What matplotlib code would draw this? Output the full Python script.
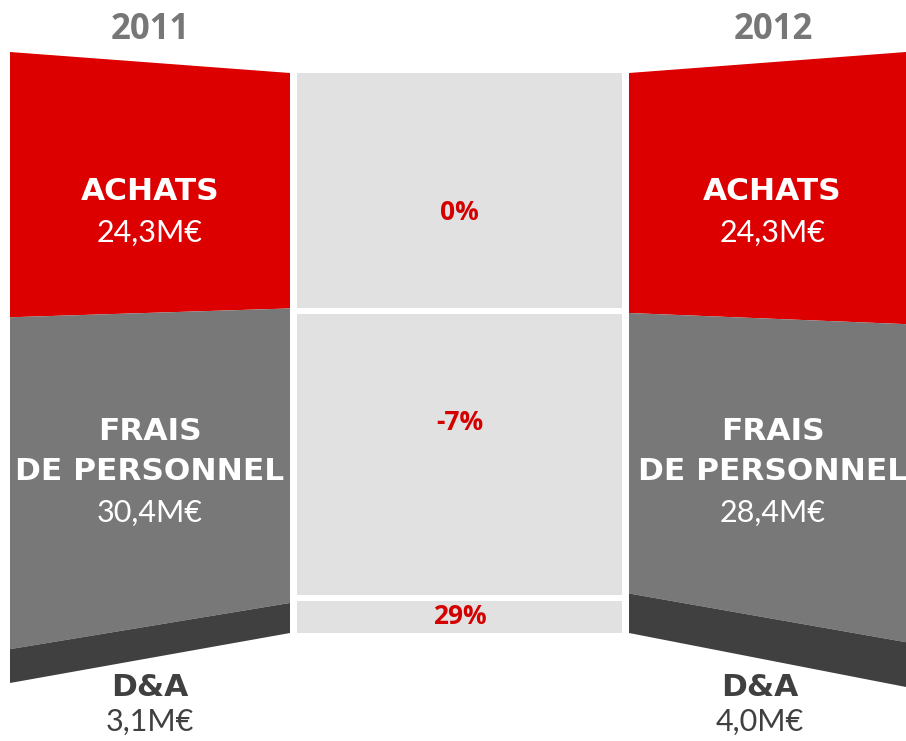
import matplotlib
matplotlib.use("Agg")
import matplotlib.pyplot as plt
from matplotlib.patches import Polygon, Rectangle
import numpy as np

# ---- data ----
years = ["2011", "2012"]
categories = ["ACHATS", "FRAIS\nDE PERSONNEL", "D&A"]
values_2011 = [24.3, 30.4, 3.1]
values_2012 = [24.3, 28.4, 4.0]
value_labels_2011 = ["24,3M€", "30,4M€", "3,1M€"]
value_labels_2012 = ["24,3M€", "28,4M€", "4,0M€"]
changes = ["0%", "-7%", "29%"]

# ---- style ----
colors = ["#dd0000", "#787878", "#404040"]
mid_color = "#e1e1e1"
red_txt = "#d40000"

W, H = 906, 741
fig = plt.figure(figsize=(W / 100, H / 100), dpi=100)
ax = fig.add_axes([0, 0, 1, 1])
ax.set_xlim(0, W)
ax.set_ylim(H, 0)
ax.axis("off")

# layout (pixels)
inner_top, inner_bot = 73, 633
outer_top = 52
outer_bot = {"2011": 683, "2012": 687}
bars = {"2011": (10, 290, "left"), "2012": (629, 906, "right")}
label_dx = {"2011": (0, 0), "2012": (5, -8)}   # (main labels, D&A label)

def bounds(vals, top, bot):
    c = np.concatenate([[0], np.cumsum(vals)]) / np.sum(vals)
    return top + c * (bot - top)

head_kw = dict(ha="center", va="center", fontsize=22.5, fontweight="bold", family="DejaVu Sans")
num_kw = dict(ha="center", va="center", fontsize=22, family="Lato")

data = {"2011": (values_2011, value_labels_2011), "2012": (values_2012, value_labels_2012)}
inner_fracs = []
for yr in years:
    vals, labs = data[yr]
    x0, x1, side = bars[yr]
    bi = bounds(vals, inner_top, inner_bot)
    bo = bounds(vals, outer_top, outer_bot[yr])
    inner_fracs.append(bi)
    for i in range(3):
        if side == "left":
            pts = [(x0, bo[i]), (x1, bi[i]), (x1, bi[i + 1]), (x0, bo[i + 1])]
        else:
            pts = [(x0, bi[i]), (x1, bo[i]), (x1, bo[i + 1]), (x0, bi[i + 1])]
        ax.add_patch(Polygon(pts, closed=True, facecolor=colors[i], edgecolor="none"))
    cx = (x0 + x1) / 2
    dm, dd = label_dx[yr]
    ax.text(cx + (0 if yr == "2011" else 6), 30, yr, ha="center", va="center",
            fontsize=25, fontweight="bold", color="#777777", family="Open Sans")
    # labels
    ax.text(cx + dm, 192, "ACHATS", color="white", **head_kw)
    ax.text(cx + dm, 233, labs[0], color="white", **num_kw)
    ax.text(cx + dm, 432, "FRAIS", color="white", **head_kw)
    ax.text(cx + dm, 472, "DE PERSONNEL", color="white", **head_kw)
    ax.text(cx + dm, 513, labs[1], color="white", **num_kw)
    ax.text(cx + dd, 687, "D&A", color="#404040", **head_kw)
    ax.text(cx + dd, 722, labs[2], color="#404040", **num_kw)

# middle panel
mb = (inner_fracs[0] + inner_fracs[1]) / 2
mx0, mx1 = 297, 622
gap = 3
text_y = [213, 422, 617]
for i in range(3):
    top = mb[i] + (gap if i > 0 else 0)
    bot = mb[i + 1] - (gap if i < 2 else 0)
    ax.add_patch(Rectangle((mx0, top), mx1 - mx0, bot - top,
                           facecolor=mid_color, edgecolor="none"))
    ax.text((mx0 + mx1) / 2, text_y[i], changes[i], ha="center", va="center",
            fontsize=19, fontweight="bold", color=red_txt, family="Open Sans")

fig.savefig("out.png", dpi=100, facecolor="white")
